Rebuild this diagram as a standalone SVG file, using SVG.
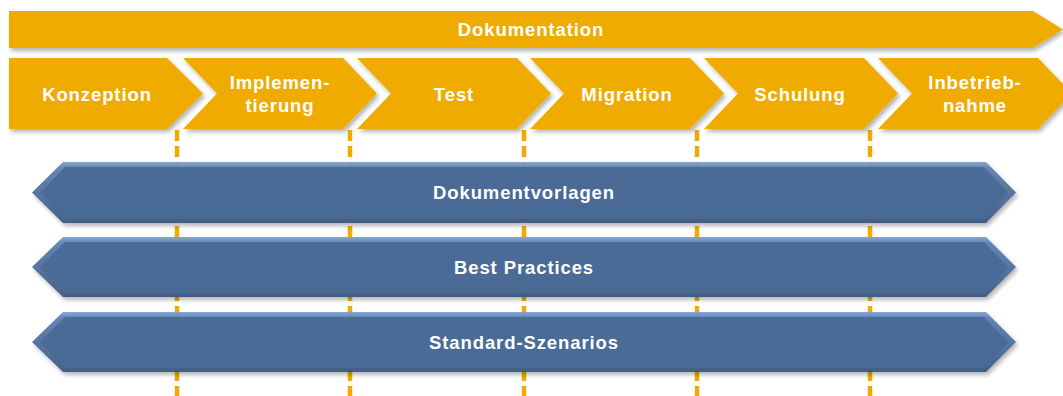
<svg xmlns="http://www.w3.org/2000/svg" width="1063" height="396" viewBox="0 0 1063 396">
<defs>
<filter id="sh" x="-5%" y="-20%" width="110%" height="150%">
<feDropShadow dx="2" dy="3" stdDeviation="2" flood-color="#000" flood-opacity="0.3"/>
</filter>
<linearGradient id="bev" x1="0" y1="0" x2="0" y2="1">
<stop offset="0" stop-color="#7FA3D3"/>
<stop offset="0.1" stop-color="#5C80B0"/>
<stop offset="0.5" stop-color="#4C6F9C"/>
<stop offset="0.9" stop-color="#3E5E88"/>
<stop offset="1" stop-color="#385680"/>
</linearGradient>
<style>
.o{fill:#F0AB00;filter:url(#sh)}
.t{font-family:"Liberation Sans",Arial,sans-serif;font-weight:bold;font-size:18.5px;fill:#fff;text-anchor:middle;letter-spacing:0.9px}
.d{stroke:#F0AB00;stroke-width:4.5;stroke-dasharray:11 5;fill:none}
.bo{fill:url(#bev);filter:url(#sh);opacity:0.95}
.bi{fill:#4A6A95;opacity:0.95}
</style>
</defs>
<g id="connectors">
<line class="d" x1="177" y1="130" x2="177" y2="396"/>
<line class="d" x1="350" y1="130" x2="350" y2="396"/>
<line class="d" x1="524" y1="130" x2="524" y2="396"/>
<line class="d" x1="697" y1="130" x2="697" y2="396"/>
<line class="d" x1="870" y1="130" x2="870" y2="396"/>
</g>
<g id="dokumentation">
<polygon class="o" points="9,11 1033,11 1063,29.5 1033,48 9,48"/>
<text class="t" x="531" y="36">Dokumentation</text>
</g>
<g id="konzeption">
<polygon class="o" points="9,58 167,58 203,93.5 167,129 9,129"/>
<text class="t" x="97" y="101">Konzeption</text>
</g>
<g id="implementierung">
<polygon class="o" points="183,58 343,58 377,93.5 343,129 183,129 217,93.5"/>
<text class="t" x="280" y="89">Implemen-</text>
<text class="t" x="280" y="112">tierung</text>
</g>
<g id="test">
<polygon class="o" points="357,58 517,58 551,93.5 517,129 357,129 391,93.5"/>
<text class="t" x="454" y="101">Test</text>
</g>
<g id="migration">
<polygon class="o" points="530,58 690,58 724,93.5 690,129 530,129 564,93.5"/>
<text class="t" x="627" y="101">Migration</text>
</g>
<g id="schulung">
<polygon class="o" points="704,58 864,58 898,93.5 864,129 704,129 738,93.5"/>
<text class="t" x="800" y="101">Schulung</text>
</g>
<g id="inbetriebnahme">
<polygon class="o" points="878,58 1038,58 1072,93.5 1038,129 878,129 912,93.5"/>
<text class="t" x="975" y="89">Inbetrieb-</text>
<text class="t" x="975" y="112">nahme</text>
</g>
<g id="dokumentvorlagen">
<polygon class="bo" points="32,192.5 63,162 986,162 1016,192.5 986,223 63,223"/>
<polygon class="bi" points="40,192.5 65,167 984,167 1008,192.5 984,219 65,219"/>
<text class="t" x="524" y="199">Dokumentvorlagen</text>
</g>
<g id="bestpractices">
<polygon class="bo" points="32,267 63,237 986,237 1016,267 986,297 63,297"/>
<polygon class="bi" points="40,267 65,242 984,242 1008,267 984,293 65,293"/>
<text class="t" x="524" y="274">Best Practices</text>
</g>
<g id="standardszenarios">
<polygon class="bo" points="32,342 63,312 986,312 1016,342 986,372 63,372"/>
<polygon class="bi" points="40,342 65,317 984,317 1008,342 984,368 65,368"/>
<text class="t" x="524" y="349">Standard-Szenarios</text>
</g>
</svg>
